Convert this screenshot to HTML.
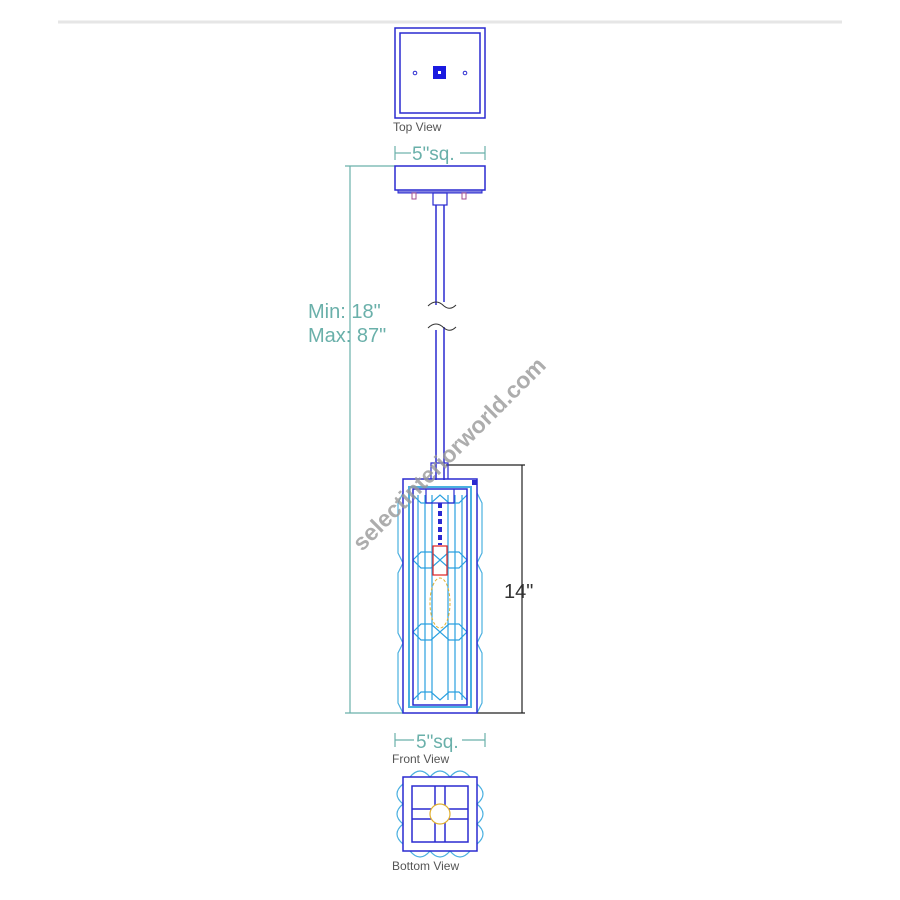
<!DOCTYPE html>
<html><head><meta charset="utf-8"><style>
html,body{margin:0;padding:0;background:#fff;}
svg{display:block;}
text{font-family:"Liberation Sans",sans-serif;}
</style></head><body>
<svg width="900" height="900" viewBox="0 0 900 900" xmlns="http://www.w3.org/2000/svg">
<line x1="58" y1="22" x2="842" y2="22" stroke="#e6e6e6" stroke-width="3"/>
<!-- top view -->
<rect x="395" y="28" width="90" height="90" fill="none" stroke="#2a2ad0" stroke-width="1.5"/>
<rect x="400" y="33" width="80" height="80" fill="none" stroke="#2a2ad0" stroke-width="1.5"/>
<rect x="433" y="66" width="13" height="13" fill="#1a1ae0"/>
<rect x="438" y="71" width="3" height="3" fill="#fff"/>
<circle cx="415" cy="73" r="1.8" fill="none" stroke="#2a2ad0"/>
<circle cx="465" cy="73" r="1.8" fill="none" stroke="#2a2ad0"/>
<text x="393" y="131" font-size="12" fill="#555">Top View</text>
<!-- dims -->
<g stroke="#6ab0aa" stroke-width="1.2" fill="none">
<line x1="395" y1="146" x2="395" y2="160"/><line x1="485" y1="146" x2="485" y2="160"/>
<line x1="395" y1="153" x2="411" y2="153"/><line x1="460" y1="153" x2="485" y2="153"/>
<line x1="395" y1="733" x2="395" y2="747"/><line x1="485" y1="733" x2="485" y2="747"/>
<line x1="395" y1="740" x2="414" y2="740"/><line x1="462" y1="740" x2="485" y2="740"/>
<line x1="350" y1="166" x2="350" y2="713"/>
<line x1="345" y1="166" x2="395" y2="166"/>
<line x1="345" y1="713" x2="403" y2="713"/>
</g>
<text x="412" y="160" font-size="19" fill="#6ab0aa">5"sq.</text>
<text x="416" y="748" font-size="19" fill="#6ab0aa">5"sq.</text>
<text x="308" y="318" font-size="20" fill="#6ab0aa">Min: 18"</text>
<text x="308" y="342" font-size="20" fill="#6ab0aa">Max: 87"</text>
<!-- canopy -->
<rect x="395" y="166" width="90" height="24" fill="none" stroke="#2a2ad0" stroke-width="1.5"/>
<rect x="398" y="190" width="84" height="3" fill="#8080e0" stroke="#2a2ad0"/>
<rect x="412" y="193" width="4" height="6" fill="none" stroke="#a05090"/>
<rect x="462" y="193" width="4" height="6" fill="none" stroke="#a05090"/>
<rect x="433" y="193" width="14" height="12" fill="none" stroke="#2a2ad0" stroke-width="1.2"/>
<g stroke="#2a2ad0" stroke-width="1.5" fill="none">
<line x1="436" y1="205" x2="436" y2="305"/><line x1="444" y1="205" x2="444" y2="302"/>
<line x1="436" y1="330" x2="436" y2="480"/><line x1="444" y1="327" x2="444" y2="480"/>
</g>
<g stroke="#333" stroke-width="1" fill="none">
<path d="M428 306 q8 -8 16 0 q6 5 12 -1"/><path d="M428 328 q8 -8 16 0 q6 5 12 -1"/>
</g>
<!-- right dim -->
<g stroke="#222" stroke-width="1.2">
<line x1="522" y1="465" x2="522" y2="713"/>
<line x1="446" y1="465" x2="525" y2="465"/>
<line x1="477" y1="713" x2="525" y2="713"/>
</g>
<text x="504" y="598" font-size="20" fill="#333">14"</text>
<!-- front view -->
<g fill="none" stroke="#4ab0e0" stroke-width="1.2">
<path d="M403 493 l-5 10 v50 l5 10 l-5 10 v60 l5 10 l-5 10 v50 l5 10"/>
<path d="M477 493 l5 10 v50 l-5 10 l5 10 v60 l-5 10 l5 10 v50 l-5 10"/>
<rect x="409" y="487" width="62" height="220" stroke-width="2"/>
<g stroke="#2aa0e0">
<line x1="418" y1="495" x2="418" y2="700"/><line x1="425" y1="495" x2="425" y2="700"/>
<line x1="455" y1="495" x2="455" y2="700"/><line x1="462" y1="495" x2="462" y2="700"/>
<line x1="432" y1="495" x2="432" y2="700"/><line x1="448" y1="495" x2="448" y2="700"/>
<path d="M413 560 l8 -8 h10 l9 8 l9 -8 h10 l8 8 l-8 8 h-10 l-9 -8 l-9 8 h-10z"/>
<path d="M413 632 l8 -8 h10 l9 8 l9 -8 h10 l8 8 l-8 8 h-10 l-9 -8 l-9 8 h-10z"/>
<path d="M413 700 l8 -8 h10 l9 8 l9 -8 h10 l8 8"/>
<path d="M413 495 l8 8 h10 l9 -8 l9 8 h10 l8 -8"/>
</g>
</g>
<rect x="403" y="479" width="74" height="234" fill="none" stroke="#2a2ad0" stroke-width="1.5"/>
<rect x="413" y="489" width="54" height="216" fill="none" stroke="#2a2ad0" stroke-width="1.5"/>
<path d="M431 479 v-16 h17 v16" fill="none" stroke="#2a2ad0" stroke-width="1.2"/>
<path d="M426 489 v14 h28 v-14" fill="none" stroke="#2a2ad0" stroke-width="1.2"/>
<rect x="472" y="480" width="5" height="5" fill="#2a2ad0"/>
<line x1="440" y1="503" x2="440" y2="545" stroke="#2a2ad0" stroke-width="4" stroke-dasharray="5 3"/>
<rect x="433" y="546" width="14" height="29" fill="none" stroke="#e02020" stroke-width="1.2"/>
<ellipse cx="440" cy="603" rx="10" ry="25" fill="none" stroke="#e0b030" stroke-dasharray="3 2"/>
<text x="392" y="763" font-size="12" fill="#555">Front View</text>
<!-- bottom view -->
<g fill="none" stroke="#4ab0e0" stroke-width="1.2">
<path d="M410 777 q10 -12 20 0 q10 -12 20 0 q10 -12 20 0"/>
<path d="M410 851 q10 12 20 0 q10 12 20 0 q10 12 20 0"/>
<path d="M403 784 q-12 10 0 20 q-12 10 0 20 q-12 10 0 20"/>
<path d="M477 784 q12 10 0 20 q12 10 0 20 q12 10 0 20"/>
</g>
<g fill="none" stroke="#2a2ad0" stroke-width="1.5">
<rect x="403" y="777" width="74" height="74"/>
<rect x="412" y="786" width="56" height="56"/>
<line x1="435" y1="786" x2="435" y2="842"/><line x1="445" y1="786" x2="445" y2="842"/>
<line x1="412" y1="809" x2="468" y2="809"/><line x1="412" y1="819" x2="468" y2="819"/>
</g>
<circle cx="440" cy="814" r="10" fill="#fff" stroke="#e0b030" stroke-width="1.2"/>
<text x="392" y="870" font-size="12" fill="#555">Bottom View</text>
<text x="0" y="0" font-size="23" font-weight="bold" fill="#999" opacity="0.8" textLength="262" lengthAdjust="spacingAndGlyphs" transform="translate(362,552) rotate(-45)">selectinteriorworld.com</text>
</svg>
</body></html>
